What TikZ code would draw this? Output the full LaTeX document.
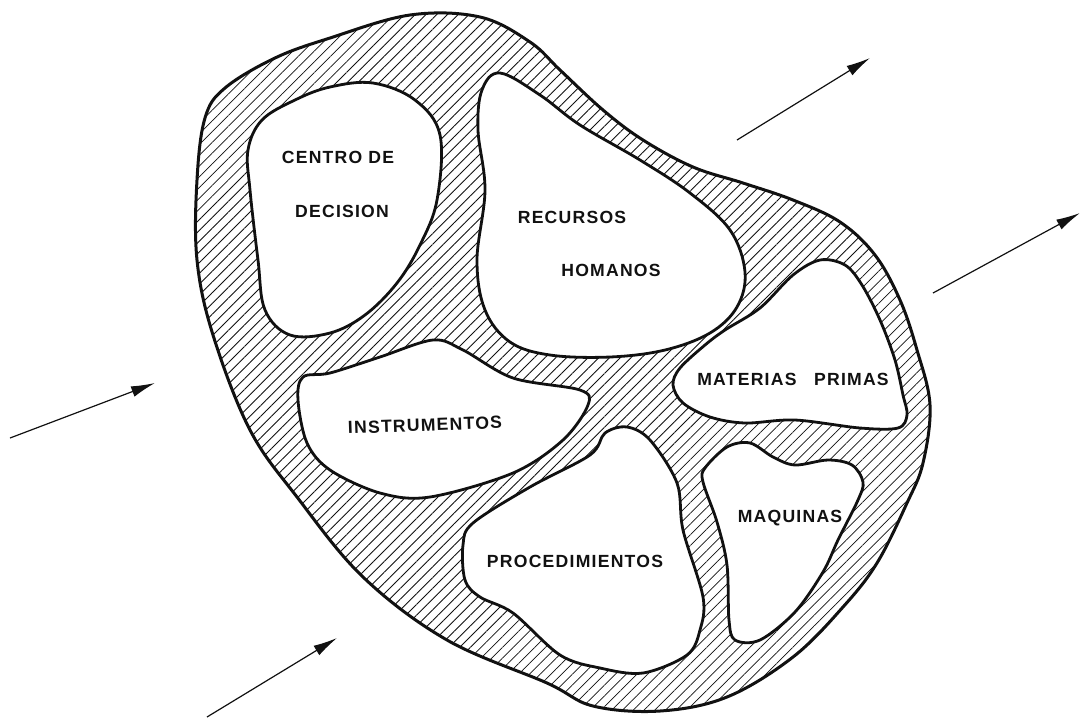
\documentclass[tikz,border=0pt]{standalone}
\usepackage{fontspec}
\setmainfont{Liberation Sans}
\newfontfamily\handfont[LetterSpace=7]{Liberation Sans}
\usetikzlibrary{arrows.meta,patterns.meta}
\definecolor{Ink}{HTML}{111111}
\tikzset{
  rim/.style={draw=Ink,line width=1.5pt,pattern={Lines[angle=45,distance=3.8pt,line width=0.4pt]},pattern color=Ink},
  blob/.style={draw=Ink,fill=white,line width=1.4pt},
  lbl/.style={font=\handfont\bfseries\fontsize{8.8}{11}\selectfont,text=Ink,inner sep=1pt},
  arr/.style={-{Latex[length=12pt,width=5.5pt]},draw=Ink,line width=0.6pt}
}

\begin{document}
\begin{tikzpicture}[x=0.5pt,y=-0.5pt]
  \useasboundingbox (0,0) rectangle (1082,720);

  % hatched outer ring
  \path[rim] plot[smooth cycle,tension=0.6] coordinates {
    (225,88) (275,58) (330,38) (410,15) (480,17) (530,42) (560,70) (603,110)
    (643,140) (693,167) (743,183) (793,200) (840,222) (875,255) (900,300)
    (917,350) (930,405) (923,463) (907,503) (877,563) (843,607) (793,657)
    (727,697) (660,711) (593,706) (547,683) (447,640) (363,577) (297,497)
    (250,430) (213,335) (197,260) (197,180) (205,118)};

  % inner blobs
  \filldraw[blob] plot[smooth cycle,tension=0.6] coordinates {
    (330,87) (373,83) (415,100) (440,135) (437,200) (420,245) (397,283)
    (365,315) (330,333) (290,335) (265,310) (258,260) (250,190) (248,150)
    (262,120) (295,100)};
  \filldraw[blob] plot[smooth cycle,tension=0.6] coordinates {
    (500,73) (540,95) (580,125) (640,160) (690,193) (730,230) (745,272)
    (737,307) (710,333) (665,350) (610,357) (550,355) (510,342) (485,310)
    (477,260) (485,190) (478,130) (482,90)};
  \filldraw[blob] plot[smooth cycle,tension=0.55] coordinates {
    (303,377) (330,373) (380,357) (433,340) (463,350) (513,378) (580,390)
    (588,405) (563,440) (513,473) (430,497) (380,493) (330,470) (307,443)
    (298,400)};
  \filldraw[blob] plot[smooth cycle,tension=0.55] coordinates {
    (463,545) (473,523) (530,487) (590,455) (605,433) (627,427) (650,440)
    (677,483) (683,530) (703,597) (700,630) (687,655) (643,673) (600,668)
    (560,655) (513,613) (480,597) (465,580)};
  \filldraw[blob] plot[smooth cycle,tension=0.55] coordinates {
    (820,260) (845,265) (862,285) (880,320) (895,360) (903,395) (907,415)
    (898,428) (860,428) (795,420) (745,423) (710,417) (683,403) (673,385)
    (680,368) (705,345) (725,330) (760,308) (793,275)};
  \filldraw[blob] plot[smooth cycle,tension=0.55] coordinates {
    (705,468) (727,447) (750,443) (773,457) (795,465) (828,460) (852,465)
    (863,482) (858,500) (838,540) (823,572) (795,612) (760,640) (735,640)
    (729,620) (727,565) (717,522) (703,482)};

  % labels
  \node[lbl] (cd1) at (338,157) {CENTRO DE};
  \node[lbl] (cd2) at (342,211) {DECISION};
  \node[lbl] (rh1) at (572,217) {RECURSOS};
  \node[lbl] (rh2) at (611,270) {HOMANOS};
  \node[lbl,rotate=2] (ins) at (425,425) {INSTRUMENTOS};
  \node[lbl] (pro) at (575,561) {PROCEDIMIENTOS};
  \node[lbl] (mp) at (793,379) {MATERIAS\quad PRIMAS};
  \node[lbl] (maq) at (790,518) {MAQUINAS};

  % arrows
  \coordinate (a1s) at (737,140); \coordinate (a1e) at (870,58);
  \coordinate (a2s) at (933,293); \coordinate (a2e) at (1080,213);
  \coordinate (a3s) at (10,438);  \coordinate (a3e) at (155,383);
  \coordinate (a4s) at (207,717); \coordinate (a4e) at (337,638);
  \draw[arr] (a1s) -- (a1e);
  \draw[arr] (a2s) -- (a2e);
  \draw[arr] (a3s) -- (a3e);
  \draw[arr] (a4s) -- (a4e);
\end{tikzpicture}
\end{document}
